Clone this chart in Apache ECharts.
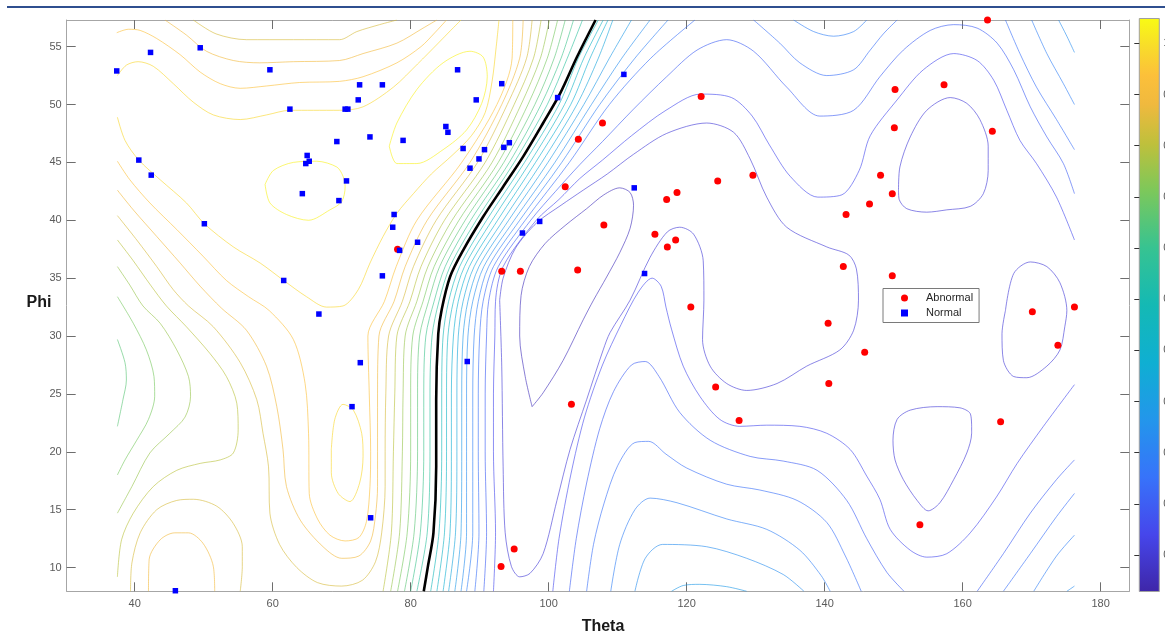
<!DOCTYPE html>
<html><head><meta charset="utf-8">
<script src="https://cdn.jsdelivr.net/npm/echarts@6/dist/echarts.min.js"></script>
<style>html,body{margin:0;padding:0;background:#fff}#c{width:1165px;height:637px}</style>
</head><body><div id="c"></div>
<script>
// ---------------- data ----------------
const xTicks = [40,60,80,100,120,140,160,180];
const yTicks = [10,15,20,25,30,35,40,45,50,55];
const cbTicks = [0,0.1,0.2,0.3,0.4,0.5,0.6,0.7,0.8,0.9,1];

const abnormal = [[107.8,48.4],[104.3,47.0],[102.4,42.9],[108.0,39.6],[93.2,35.6],[95.9,35.6],[104.2,35.7],[78.1,37.5],[103.3,24.1],[95.0,11.6],[93.1,10.1],[122.1,50.7],[129.6,43.9],[124.5,43.4],[118.6,42.4],[117.1,41.8],[115.4,38.8],[118.4,38.3],[117.2,37.7],[120.6,32.5],[148.1,43.9],[146.5,41.4],[143.1,40.5],[142.7,36.0],[163.6,57.3],[150.2,51.3],[157.3,51.7],[150.1,48.0],[164.3,47.7],[149.8,42.3],[149.8,35.2],[170.1,32.1],[176.2,32.5],[173.8,29.2],[165.5,22.6],[153.8,13.7],[140.5,31.1],[145.8,28.6],[140.6,25.9],[124.2,25.6],[127.6,22.7]];
const normal = [[37.4,52.9],[42.3,54.5],[49.5,54.9],[59.6,53.0],[62.5,49.6],[69.3,46.8],[65.0,45.6],[65.3,45.1],[64.8,44.9],[64.3,42.3],[69.6,41.7],[40.6,45.2],[42.4,43.9],[50.1,39.7],[61.6,34.8],[86.8,53.0],[93.2,51.8],[72.6,51.7],[75.9,51.7],[72.4,50.4],[70.5,49.6],[70.9,49.6],[89.5,50.4],[101.3,50.6],[85.1,48.1],[85.4,47.6],[74.1,47.2],[78.9,46.9],[87.6,46.2],[90.7,46.1],[89.9,45.3],[88.6,44.5],[93.5,46.3],[94.3,46.7],[70.7,43.4],[77.6,40.5],[77.4,39.4],[81.0,38.1],[78.4,37.4],[75.9,35.2],[98.7,39.9],[96.2,38.9],[110.9,52.6],[112.4,42.8],[113.9,35.4],[72.7,27.7],[88.2,27.8],[71.5,23.9],[74.2,14.3],[45.9,8.0],[66.7,31.9]];

// decision boundary (thick black contour)
const boundary = [[81.9,7.95],[82.5,10.1],[83.3,13.0],[83.7,18.7],[83.7,24.5],[84.0,30.2],[84.5,32.3],[85.7,35.1],[87.6,37.4],[90.5,40.3],[93.4,42.9],[96.3,45.5],[99.2,48.4],[101.7,51.0],[104.1,54.1],[106.8,57.3]];

// ---- contour lines above the boundary (Normal side) ----
const cLoop1 = [[58.9,43.1],[60.1,44.3],[63.0,45.0],[66.4,45.1],[69.3,44.6],[70.2,43.8],[70.5,42.9],[70.0,41.6],[68.3,40.9],[65.2,40.0],[62.0,40.5],[59.6,41.5],[58.9,43.1]];
const cLoop2 = [[76.9,46.4],[78.0,48.4],[80.9,51.3],[84.7,53.6],[88.6,54.6],[90.5,54.1],[91.1,52.4],[90.3,50.1],[88.1,47.8],[84.7,46.1],[80.9,44.9],[78.0,44.9],[76.9,46.4]];
const cLoop3 = [[68.5,20.2],[69.0,22.8],[70.2,24.1],[71.7,23.6],[72.9,21.6],[73.1,19.6],[72.6,17.3],[71.2,15.7],[69.5,16.4],[68.5,18.2],[68.5,20.2]];
const cD = [[37.5,52.5],[38.8,53.4],[40.5,53.7],[42.7,53.3],[45.6,51.8],[48.5,50.2],[51.4,49.1],[55.3,48.7],[59.1,49.1],[62.5,49.5],[65.9,49.5],[69.7,49.5],[73.1,49.8],[77.5,51.5],[81.0,53.5],[84.0,55.3],[85.8,56.4],[87.3,57.3]];
const cE = [[37.5,48.9],[38.6,46.9],[40.6,45.2],[43.7,43.5],[47.5,41.5],[50.1,39.7],[54.3,37.7],[58.2,36.3],[61.6,34.8],[64.9,33.4],[67.8,32.5],[70.2,32.6],[72.4,34.0],[74.1,36.3],[76.0,38.6],[78.0,40.6],[80.4,42.3],[83.0,44.0],[86.0,45.6],[88.8,47.3],[90.8,49.3],[91.8,52.0],[92.4,55.0],[92.8,57.3]];
const cC = [[37.4,56.2],[39.1,56.5],[40.8,56.4],[43.2,55.7],[46.6,54.3],[49.5,52.8],[52.4,51.8],[55.3,51.4],[59.1,51.6],[63.9,51.9],[69.7,52.0],[73.1,52.4],[78.0,53.6],[81.5,55.0],[83.5,56.2],[85.2,57.3]];
const cB = [[44.4,57.3],[47.5,56.0],[50.4,54.6],[54.3,53.8],[58.1,53.6],[63.0,53.7],[69.7,53.8],[73.1,54.4],[78.0,55.3],[81.8,56.6],[83.8,57.3]];
const cA = [[48.5,57.3],[51.8,56.1],[56.2,55.6],[63.0,55.6],[69.7,55.6],[72.2,56.3],[75.5,56.9],[78.0,57.3]];
const cF = [[37.5,45.1],[39.3,43.5],[42.2,41.5],[46.1,39.2],[49.9,36.9],[53.3,34.8],[56.5,33.4],[59.5,32.2],[63.0,29.7],[64.7,25.9],[65.2,21.6],[65.3,16.4],[66.5,14.2],[68.3,12.8],[70.5,12.3],[72.5,12.6],[73.6,14.0],[74.1,17.0],[74.2,20.0],[74.0,25.0],[73.8,30.0],[76.2,33.0],[77.9,36.0],[80.9,40.0],[87.4,45.0],[92.5,50.0],[94.7,54.0],[94.8,57.3]];
const cG = [[37.5,42.6],[39.8,40.9],[43.2,38.6],[46.6,36.3],[49.5,34.3],[52.6,32.4],[56.2,30.5],[59.1,27.4],[60.6,23.9],[61.5,20.2],[62.0,17.0],[64.0,14.1],[67.3,11.8],[70.0,10.8],[72.5,11.0],[74.2,12.3],[74.9,14.5],[75.2,17.0],[75.2,20.0],[75.2,25.0],[75.4,30.0],[77.6,33.0],[79.2,36.0],[82.4,40.0],[88.6,45.0],[93.2,50.0],[95.8,54.0],[96.3,57.3]];
const cH = [[37.5,40.4],[40.3,38.3],[43.2,36.0],[45.6,34.0],[47.8,32.6],[51.4,30.8],[55.3,27.7],[57.7,24.5],[58.6,21.6],[59.4,18.7],[59.6,14.7],[61.0,12.0],[63.5,10.0],[66.5,8.7],[70.0,8.4],[73.0,8.9],[74.9,10.5],[75.8,13.0],[76.3,17.0],[76.3,20.0],[76.4,25.0],[76.8,30.0],[78.8,33.0],[80.4,36.0],[83.7,40.0],[89.7,45.0],[94.0,50.0],[96.8,54.0],[97.6,57.3]];
const cK6 = [[76.0,7.95],[77.2,13],[77.5,20],[77.7,25],[78.0,30],[79.9,33],[81.5,36],[84.9,40],[90.8,45],[95.0,50],[97.8,54],[98.9,57.3]];
const cK5 = [[77.1,7.95],[78.4,13],[78.8,20],[78.9,25],[79.2,30],[80.9,33],[82.5,36],[86.0,40],[91.8,45],[96.0,50],[98.8,54],[100.1,57.3]];
const cK4 = [[78.1,7.95],[79.5,13],[80.0,20],[80.0,25],[80.3,30],[81.8,33],[83.4,36],[87.0,40],[92.7,45],[97.0,50],[99.8,54],[101.3,57.3]];
const cK3 = [[79.1,7.95],[80.5,13],[81.0,20],[81.0,25],[81.3,30],[82.6,33],[84.2,36],[87.9,40],[93.5,45],[98.0,50],[100.8,54],[102.4,57.3]];
const cK2 = [[80.0,7.95],[81.4,13],[81.9,20],[81.9,25],[82.2,30],[83.4,33],[85.0,36],[88.7,40],[94.3,45],[98.9,50],[101.8,54],[103.6,57.3]];
const cK1 = [[80.9,7.95],[82.4,13],[82.8,20],[82.8,25],[83.1,30],[84.1,33],[85.7,36],[89.5,40],[95.0,45],[99.8,50],[102.7,54],[104.9,57.3]];
const cI = [[37.5,38.3],[39.8,36.5],[42.3,34.4],[44.6,32.6],[47.5,30.8],[50.9,28.5],[53.3,26.5],[54.8,24.2],[55.0,21.9],[54.3,19.9],[52.4,19.3],[49.5,19.0],[46.1,18.4],[42.7,17.0],[39.8,14.7],[38.1,12.4],[37.5,9.2]];
const cJ = [[37.5,36.0],[39.3,34.4],[41.2,32.6],[43.7,31.1],[46.1,28.8],[47.8,26.5],[48.1,24.8],[47.3,23.0],[45.1,21.6],[42.2,19.9],[39.6,17.0],[37.5,14.7]];
const cK = [[37.5,33.4],[39.8,31.1],[41.7,28.8],[42.8,26.5],[42.9,24.8],[42.0,22.8],[40.3,21.0],[38.6,19.3],[37.5,18.0]];
const cT0 = [[37.5,29.7],[38.6,27.7],[38.8,26.2],[38.3,24.5],[37.5,22.2]];
const cArch1 = [[42.0,7.95],[42.1,10.7],[43.7,12.4],[45.8,13.0],[47.8,13.0],[49.9,12.1],[51.4,10.1],[51.6,7.95]];
const cArch2 = [[39.4,7.95],[39.6,10.4],[40.8,13.0],[43.2,15.0],[46.1,15.8],[48.5,15.9],[51.9,15.3],[54.3,13.8],[55.6,11.8],[55.6,10.1],[55.3,7.95]];

// ---- contour lines below the boundary (Abnormal side) ----
const cM1 = [[82.9,7.95],[84.1,13],[84.5,20],[84.5,25],[84.7,30],[85.5,33],[87.1,36],[91.0,40],[96.5,45],[101.5,50],[104.3,54],[107.2,57.3]];
const cM2 = [[83.8,7.95],[84.9,13],[85.2,20],[85.2,25],[85.4,30],[86.2,33],[87.8,36],[91.8,40],[97.3,45],[102.3,50],[105.1,54],[107.9,57.3]];
const cM3 = [[84.7,7.95],[85.7,13],[85.9,20],[85.9,25],[86.2,30],[86.9,33],[88.5,36],[92.6,40],[98.1,45],[103.2,50],[106.0,54],[108.6,57.3]];
const cM4 = [[85.5,7.95],[86.5,13],[86.7,20],[86.7,25],[86.9,30],[87.6,33],[89.2,36],[93.4,40],[99.0,45],[104.1,50],[107.2,54],[109.3,57.3]];
const cM5 = [[86.4,7.95],[87.3,13],[87.4,20],[87.4,25],[87.6,30],[88.3,33],[89.9,36],[94.2,40],[99.9,45],[105.1,50],[108.8,54],[112.0,57.3]];
const cM6 = [[87.3,7.95],[88.1,13],[88.1,20],[88.1,25],[88.3,30],[89.0,33],[90.6,36],[95.0,40],[100.9,45],[106.2,50],[110.6,54],[114.7,57.3]];
const cM7 = [[88.1,7.95],[89.0,13],[89.0,20],[89.0,25],[89.2,30],[89.8,33],[91.3,36],[95.8,40],[101.9,45],[107.4,50],[112.5,54],[117.3,57.3]];
const cM8 = [[89.3,7.95],[89.9,13],[89.8,20],[89.8,25],[90.0,30],[90.5,33],[92.0,36],[96.6,40],[103.0,45],[108.8,50],[114.8,54],[121.2,57.3]];
const cM9 = [[90.6,7.95],[91.0,13],[90.8,20],[90.8,25],[91.0,30],[91.3,33],[92.7,36],[97.4,40],[101.0,42.5],[104.5,44.8],[107.8,46.8],[112.3,49.6],[117.1,52.4],[121.5,54.7],[125.8,55.6],[129.7,54.6],[134.5,51.5],[139.3,49.0],[144.2,49.5],[148.0,52.4],[151.4,54.7],[155.3,56.4],[158.7,56.9],[162.1,56.6],[165.0,55.3],[167.4,53.0],[169.8,49.8],[172.2,47.2],[174.6,44.9],[176.2,42.3]];
const cM10 = [[92.0,7.95],[92.3,13],[92.0,20],[92.0,25],[92.2,30],[92.3,33],[93.4,36],[98.2,40],[101.5,41.8],[104.5,43.6],[107.8,45.2],[112.0,47.3],[117.0,49.5],[122.0,50.9],[126.5,50.6],[129.5,49.0],[132.0,46.5],[135.0,43.8],[139.0,42.0],[142.5,42.2],[145.0,44.3],[146.6,47.3],[150.5,50.4],[154.3,53.0],[158.7,54.4],[162.1,53.8],[164.5,52.1],[166.4,49.5],[168.3,46.9],[170.7,44.9],[173.6,42.0],[176.2,38.3]];
const cX = [[92.9,33.1],[93.4,35.0],[95.2,37.6],[98.3,39.8],[101.8,41.3],[105.0,42.6],[108.5,44.0],[112.3,45.7],[117.1,47.5],[122.9,48.4],[126.8,47.6],[129.2,45.3],[131.6,42.0],[134.5,39.4],[140.3,37.7],[143.5,37.0],[144.6,35.8],[144.9,33.1],[144.2,30.5],[142.2,28.8],[137.4,27.4],[133.1,25.9],[128.7,25.3],[125.8,25.9],[123.4,27.4],[122.3,29.7],[122.5,33.1],[122.4,36.5],[121.0,38.8],[119.0,39.4],[117.2,39.0],[114.7,36.8],[111.8,33.1],[108.9,30.3],[107.9,28.8],[105.5,24.5],[103.1,20.2],[101.2,15.8],[99.2,11.2],[97.3,9.5],[95.8,9.2],[94.6,10.1],[93.7,13.0],[93.4,18.7],[93.2,27.4],[92.9,33.1]];
const cY = [[97.6,23.9],[96.6,26.5],[95.8,30.0],[96.0,33.5],[97.2,36.0],[99.5,38.0],[102.5,39.6],[105.5,41.0],[108.0,42.2],[110.3,42.8],[111.8,42.4],[112.3,41.3],[111.8,39.3],[110.3,37.2],[108.4,35.1],[106.5,33.1],[105.0,31.4],[102.1,27.9],[99.2,25.1],[97.6,23.9]];
const cRb = [[100.6,7.95],[101.5,12.5],[103.2,18.0],[105.2,23.0],[107.8,27.5],[110.5,31.0],[113.0,33.8],[115.0,35.0],[116.3,34.3],[117.0,32.5],[117.8,30.6],[119.5,27.4],[121.9,24.8],[124.8,22.8],[127.7,22.2],[131.6,22.3],[136.4,22.2],[140.3,21.6],[143.7,20.2],[146.1,17.9],[148.0,15.9],[149.5,13.3],[152.4,11.5],[154.8,10.9],[157.7,11.2],[161.1,13.0],[164.9,16.1],[167.9,19.0],[171.7,22.2],[176.2,25.8]];
const cRc = [[103.0,7.95],[104.0,12.5],[105.5,17.3],[107.4,22.0],[109.4,25.2],[112.0,27.5],[114.0,27.8],[116.0,26.5],[119.0,23.4],[123.4,21.0],[129.2,19.6],[134.0,19.2],[138.9,18.4],[143.2,15.8],[146.1,12.5],[149.0,9.6],[151.5,7.95]];
const cRd = [[105.5,7.95],[106.5,12.0],[108.0,15.5],[110.0,18.8],[112.5,20.8],[114.5,20.9],[117.0,19.8],[120.0,18.6],[125.8,17.2],[130.6,16.7],[136.0,15.8],[140.3,13.9],[143.0,11.0],[145.3,7.95]];
const cRe = [[109.0,7.95],[110.3,12.0],[112.5,15.0],[114.7,16.0],[118.6,15.6],[125.8,14.2],[131.6,13.3],[136.4,11.5],[139.5,9.3],[140.8,7.95]];
const cRf = [[112.5,7.95],[114.0,10.8],[116.5,12.0],[122.9,11.8],[128.7,10.8],[134.0,9.4],[137.0,7.95]];
const cRg = [[117.8,7.95],[119.5,8.45],[121.9,8.55],[125.8,8.35],[128.7,7.95]];
const cR1 = [[150.7,42.6],[150.9,44.6],[152.4,47.2],[154.8,49.5],[158.2,50.6],[160.6,50.1],[162.5,48.7],[163.7,46.4],[163.7,44.3],[163.0,42.3],[161.1,41.2],[157.7,40.9],[154.8,40.7],[151.9,41.0],[150.8,41.8],[150.7,42.6]];
const cR2 = [[166.2,32.2],[167.4,35.4],[169.8,36.4],[172.2,36.0],[174.1,34.6],[175.1,32.2],[174.8,30.8],[174.1,28.8],[172.2,27.4],[169.3,26.4],[167.4,26.5],[165.9,27.9],[165.7,30.2],[166.2,32.2]];
const cR3 = [[161.3,22.2],[161.1,23.3],[159.6,23.8],[156.3,23.9],[152.4,23.6],[150.5,22.8],[149.9,21.0],[150.2,19.3],[151.4,17.6],[153.4,15.8],[155.0,14.9],[156.7,15.6],[158.7,17.6],[160.6,19.9],[161.3,21.6],[161.3,22.2]];
const cW2 = [[129.7,57.3],[133.5,55.3],[136.4,53.6],[140.3,52.5],[144.2,53.0],[146.6,54.7],[148.5,56.1],[150.5,57.3]];
const cWtop = [[135.5,57.3],[138.4,56.3],[141.3,55.9],[144.2,56.3],[146.1,57.3]];
const cZd = [[166.2,57.3],[168.3,54.4],[170.7,51.5],[173.6,48.7],[176.2,46.1]];
const cZe = [[170.0,57.3],[172.2,54.4],[174.6,51.8],[176.2,50.0]];
const cZf = [[173.9,57.3],[175.1,55.9],[176.2,54.5]];
const cZ8b = [[162.1,7.95],[165.9,11.2],[169.8,14.7],[173.6,17.6],[176.2,19.3]];
const cZ8c = [[165.9,7.95],[169.8,11.2],[173.6,14.4],[176.2,16.4]];
const cZ8d = [[170.3,7.95],[173.6,11.0],[176.2,12.8]];
const cZ8e = [[175.1,7.95],[176.2,8.4]];

// contour level index of each line (boundary = 0)
const contourLines = [
  [cLoop1,11],[cLoop2,11],[cLoop3,10],[cD,10],[cE,10],[cC,9],[cF,9],[cB,8],[cG,8],[cArch1,8],
  [cA,7],[cH,7],[cArch2,7],[cI,6],[cK6,6],[cJ,5],[cK5,5],[cK,4],[cK4,4],[cT0,3],[cK3,3],[cK2,2],[cK1,1],
  [cM1,-1],[cM2,-2],[cM3,-3],[cM4,-4],[cM5,-5],[cM6,-6],[cM7,-7],[cM8,-8],[cM9,-9],[cM10,-10],
  [cX,-11],[cY,-12],[cR1,-11],[cR2,-11],[cR3,-11],
  [cRb,-10],[cRc,-9],[cRd,-8],[cRe,-7],[cRf,-6],[cRg,-5],
  [cW2,-8],[cWtop,-7],[cZd,-8],[cZe,-7],[cZf,-6],[cZ8b,-9],[cZ8c,-8],[cZ8d,-7],[cZ8e,-6]
];

// ---------------- style ----------------
const cbMin = -0.0713, cbMax = 1.0485;
const parulaStops = [
  [0.00,[62,38,168]],[0.10,[70,70,235]],[0.20,[55,115,250]],[0.30,[35,150,235]],
  [0.40,[15,175,210]],[0.50,[20,185,180]],[0.60,[55,195,145]],[0.70,[125,200,90]],
  [0.78,[190,192,60]],[0.85,[240,185,62]],[0.90,[252,192,58]],[0.95,[248,220,42]],[1.00,[249,251,20]]
];
function parula(u){
  u = Math.max(0, Math.min(1, u));
  for (let i=1;i<parulaStops.length;i++){
    const [t1,c1]=parulaStops[i-1],[t2,c2]=parulaStops[i];
    if (u<=t2){const f=(u-t1)/(t2-t1);
      return 'rgb('+c1.map((v,j)=>Math.round(v+(c2[j]-v)*f)).join(',')+')';}
  }
  return 'rgb(249,251,20)';
}
function levelColor(k){ return parula(0.525 + 0.0415*k); }

const font = 'Liberation Sans, Arial, Helvetica, sans-serif';
const frameColor = '#a6a6a6', tickColor = '#6e6e6e', labelColor = '#5a5a5a';

const series = contourLines.map(([pts, lv]) => ({
  type:'line', data:pts, showSymbol:false, symbol:'none', smooth:0.3, silent:true,
  lineStyle:{width:1, color:levelColor(lv), opacity:0.62}, z:2, animation:false
}));
series.push({type:'line', data:boundary, showSymbol:false, symbol:'none', smooth:0.3, silent:true,
  lineStyle:{width:2.6, color:'#000'}, z:3, animation:false});
series.push({name:'Abnormal', type:'scatter', data:abnormal, symbol:'circle', symbolSize:7,
  itemStyle:{color:'#ff0000', opacity:1}, z:5, animation:false});
series.push({name:'Normal', type:'scatter', data:normal, symbol:'rect', symbolSize:5.5,
  itemStyle:{color:'#0000ff', opacity:1}, z:5, animation:false});

const gradStops = parulaStops.map(([t,c]) => ({offset:1-t, color:'rgb('+c.join(',')+')'})).reverse();

function axisCommon(extra){
  return Object.assign({
    type:'value', splitLine:{show:false},
    axisLine:{show:true, onZero:false, lineStyle:{color:frameColor, width:1}},
  }, extra);
}

const option = {
  backgroundColor:'#fff',
  animation:false,
  grid:[
    {left:66.7, top:20, right:35.7, bottom:45.7, show:false, containLabel:false, outerBoundsMode:'none'},
    {left:1139.3, top:18.5, right:5.7, bottom:45.5, show:true, borderColor:'#a0a0a0', borderWidth:1,
     containLabel:false, outerBoundsMode:'none',
     backgroundColor: new echarts.graphic.LinearGradient(0,0,0,1,gradStops)}
  ],
  xAxis:[
    axisCommon({gridIndex:0, position:'bottom', min:30.15, max:184.15,
      axisTick:{show:true, inside:true, length:9, customValues:xTicks, lineStyle:{color:tickColor}},
      axisLabel:{show:true, customValues:xTicks, color:labelColor, fontSize:11, fontFamily:font, margin:7}}),
    axisCommon({gridIndex:0, position:'top', min:30.15, max:184.15,
      axisTick:{show:true, inside:true, length:9, customValues:xTicks, lineStyle:{color:tickColor}},
      axisLabel:{show:false}}),
    {gridIndex:1, type:'value', min:0, max:1, show:false}
  ],
  yAxis:[
    axisCommon({gridIndex:0, position:'left', min:7.95, max:57.3,
      axisTick:{show:true, inside:true, length:9, customValues:yTicks, lineStyle:{color:tickColor}},
      axisLabel:{show:true, customValues:yTicks, color:labelColor, fontSize:11, fontFamily:font, margin:5}}),
    axisCommon({gridIndex:0, position:'right', min:7.95, max:57.3,
      axisTick:{show:true, inside:true, length:9, customValues:yTicks, lineStyle:{color:tickColor}},
      axisLabel:{show:false}}),
    {gridIndex:1, type:'value', position:'right', min:cbMin, max:cbMax, splitLine:{show:false},
      axisLine:{show:false},
      axisTick:{show:true, inside:true, length:5, customValues:cbTicks, lineStyle:{color:'#333'}},
      axisLabel:{show:true, customValues:cbTicks, color:labelColor, fontSize:11, fontFamily:font, margin:4}}
  ],
  legend:{
    data:[{name:'Abnormal', icon:'circle'},{name:'Normal', icon:'rect'}],
    orient:'vertical', left:883, top:288.5, itemWidth:7, itemHeight:7, itemGap:2,
    padding:[3,6,3,18], backgroundColor:'#fff', borderColor:'#7a7a7a', borderWidth:1,
    textStyle:{fontSize:11, lineHeight:13, color:'#262626', fontFamily:font, padding:[0,0,0,13]},
    selectedMode:false
  },
  graphic:[
    {type:'rect', shape:{x:7, y:6, width:1158, height:2}, style:{fill:'#2f4f8f'}, silent:true},
    {type:'text', x:603, y:627, style:{text:'Theta', fill:'#1a1a1a', font:'bold 16px '+font, textAlign:'center', textVerticalAlign:'middle'}},
    {type:'text', x:39, y:303, style:{text:'Phi', fill:'#1a1a1a', font:'bold 16px '+font, textAlign:'center', textVerticalAlign:'middle'}}
  ],
  series: series
};
const chart = echarts.init(document.getElementById('c'), null, {renderer:'canvas'});
chart.setOption(option);
</script></body></html>
